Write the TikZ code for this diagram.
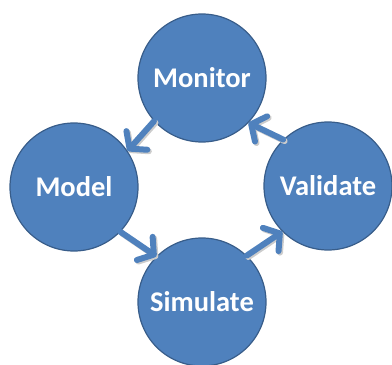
\documentclass[tikz,border=0pt]{standalone}
\usepackage{fontspec}
\setmainfont{Carlito}
\usetikzlibrary{arrows.meta}
\definecolor{cfill}{HTML}{4F81BD}
\definecolor{cline}{HTML}{385D8A}
\tikzset{
  stage/.style={circle, draw=cline, line width=1.2pt, fill=cfill, minimum size=128pt, inner sep=0pt,
    text=white, font=\fontsize{28.5}{31}\selectfont\bfseries},
  flow/.style={draw=cfill, line width=6pt, line cap=round,
    -{Straight Barb[length=11pt,width=28pt,round]}},
  flowshadow/.style={draw=black!20, line width=6pt, line cap=round,
    -{Straight Barb[length=11pt,width=28pt,round]}}
}
\begin{document}
\begin{tikzpicture}[x=1pt,y=1pt]
\useasboundingbox (0,0) rectangle (392,365);
\node[stage] (mon) at (202,287) {Monitor};
\node[stage] (mod) at (74,178) {Model};
\node[stage] (val) at (328,179) {Validate};
\node[stage] (sim) at (202,63) {Simulate};
\begin{scope}[transform canvas={xshift=1.5pt,yshift=-1.5pt}]
\draw[flowshadow] (mon.222) -- (mod.34);
\draw[flowshadow] (mod.-44) -- (sim.135);
\draw[flowshadow] (sim.46) -- (val.225);
\draw[flowshadow] (val.134) -- (mon.-44);
\end{scope}
\draw[flow] (mon.222) -- (mod.34);
\draw[flow] (mod.-44) -- (sim.135);
\draw[flow] (sim.46) -- (val.225);
\draw[flow] (val.134) -- (mon.-44);
\end{tikzpicture}
\end{document}
